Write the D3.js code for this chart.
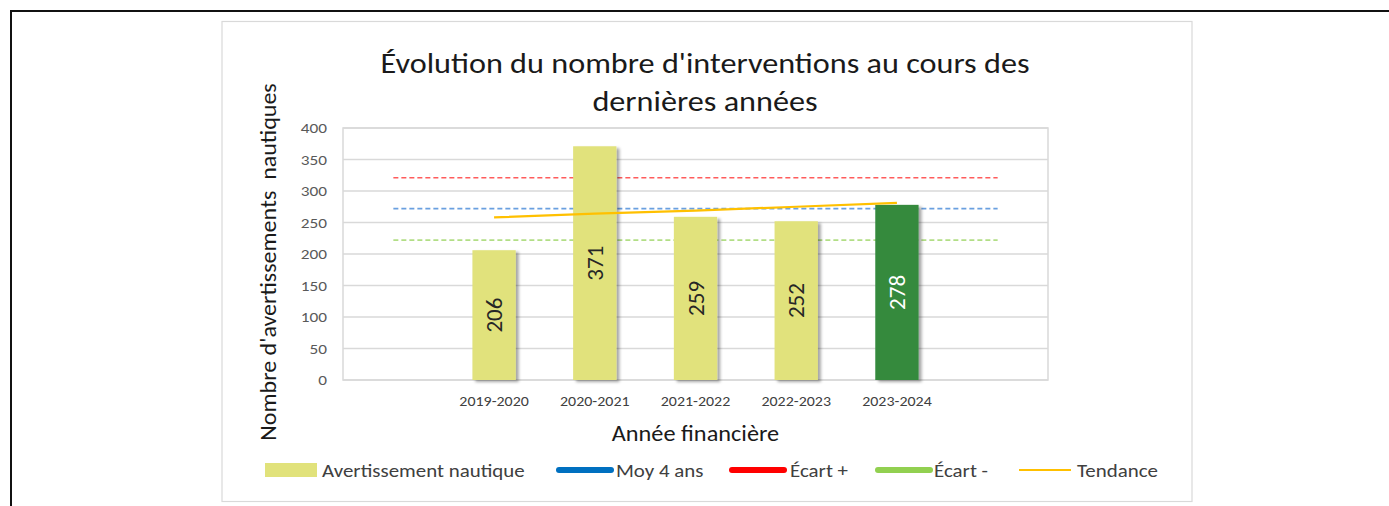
<!DOCTYPE html>
<html>
<head>
<meta charset="utf-8">
<script src="https://cdn.jsdelivr.net/npm/d3@7"></script>
<style>
  body { margin: 0; background: #fff; }
  svg { display: block; font-family: Carlito, Calibri, "Open Sans", sans-serif; }
</style>
</head>
<body>
<div id="chart"></div>
<script>
// Slots 0 and 6 are empty categories (Excel keeps them on the axis)
const categories = ["", "2019-2020", "2020-2021", "2021-2022", "2022-2023", "2023-2024", ""];
const avertissements = [null, 206, 371, 259, 252, 278, null];
const moy4ans = [272, 272, 272, 272, 272, 272, 272];
const ecartPlus = [321, 321, 321, 321, 321, 321, 321];
const ecartMoins = [222, 222, 222, 222, 222, 222, 222];
const tendance = [null, 258, 264, 269, 275, 281, null];
const yTicks = [0, 50, 100, 150, 200, 250, 300, 350, 400];
const legendLabels = ["Avertissement nautique", "Moy 4 ans", "Écart +", "Écart -", "Tendance"];

const width = 1389, height = 506;
const plot = { left: 343, top: 128, right: 1048, bottom: 380 };
const font = "Carlito, Calibri, 'Open Sans', sans-serif";
const widen = 1.13;   // the reference glyphs are wider than Carlito's

const svg = d3.select("#chart").append("svg")
  .attr("width", width)
  .attr("height", height);

// stretch text along its own direction
const stretch = (sel, k) => sel.each(function() {
  const len = this.getComputedTextLength();
  d3.select(this).attr("textLength", len * k).attr("lengthAdjust", "spacingAndGlyphs");
});

// drop shadow used by the bars
svg.append("defs").append("filter")
    .attr("id", "shadow")
    .attr("x", "-20%").attr("y", "-5%")
    .attr("width", "160%").attr("height", "115%")
  .append("feDropShadow")
    .attr("dx", 3).attr("dy", 2)
    .attr("stdDeviation", 1.6)
    .attr("flood-color", "#000")
    .attr("flood-opacity", 0.35);

// page frame + chart frame
svg.append("rect")
  .attr("x", 11).attr("y", 11)
  .attr("width", 1450).attr("height", 600)
  .attr("fill", "none").attr("stroke", "#111").attr("stroke-width", 2);

svg.append("rect")
  .attr("x", 222).attr("y", 21.5)
  .attr("width", 970).attr("height", 480)
  .attr("fill", "#fff").attr("stroke", "#d9d9d9").attr("stroke-width", 1.2);

const x = d3.scaleBand()
  .domain(d3.range(categories.length))
  .range([plot.left, plot.right])
  .paddingInner(0.57)
  .paddingOuter(0.285);

const y = d3.scaleLinear()
  .domain([0, 400])
  .range([plot.bottom, plot.top]);

const cx = i => x(i) + x.bandwidth() / 2;

// gridlines
svg.append("g")
  .selectAll("line")
  .data(yTicks)
  .join("line")
  .attr("x1", plot.left).attr("x2", plot.right)
  .attr("y1", d => y(d)).attr("y2", d => y(d))
  .attr("stroke", "#d9d9d9")
  .attr("stroke-width", 1.5);

svg.append("rect")
  .attr("x", plot.left).attr("y", plot.top)
  .attr("width", plot.right - plot.left).attr("height", plot.bottom - plot.top)
  .attr("fill", "none").attr("stroke", "#d9d9d9").attr("stroke-width", 1.5);

// y axis (labels only)
const yAxis = svg.append("g")
  .attr("transform", `translate(${plot.left},0)`)
  .call(d3.axisLeft(y).tickValues(yTicks).tickSize(0).tickPadding(16));
yAxis.select(".domain").remove();
yAxis.selectAll("text")
  .attr("fill", "#595959")
  .style("font-size", "15px")
  .style("font-family", font)
  .call(stretch, 1.15);

// x axis (labels only)
const xAxis = svg.append("g")
  .attr("transform", `translate(0,${plot.bottom})`)
  .call(d3.axisBottom(x).tickFormat(i => categories[i]).tickSize(0).tickPadding(16));
xAxis.select(".domain").remove();
xAxis.selectAll("text")
  .attr("fill", "#404040")
  .style("font-size", "14.5px")
  .style("font-family", font)
  .call(stretch, 1.1);

// reference lines (dashed)
const refLines = [
  { values: ecartPlus, color: "#ff5c5c" },
  { values: moy4ans, color: "#6aa0e0" },
  { values: ecartMoins, color: "#b2de86" }
];
const lineGen = d3.line()
  .defined(d => d.v != null)
  .x(d => cx(d.i))
  .y(d => y(d.v));

svg.append("g")
  .selectAll("path")
  .data(refLines)
  .join("path")
  .attr("d", d => lineGen(d.values.map((v, i) => ({ v, i }))))
  .attr("fill", "none")
  .attr("stroke", d => d.color)
  .attr("stroke-width", 1.6)
  .attr("stroke-dasharray", "5 3");

// bars
const barData = avertissements.map((v, i) => ({ v, i })).filter(d => d.v != null);
const last = barData[barData.length - 1].i;

svg.append("g")
  .selectAll("rect")
  .data(barData)
  .join("rect")
  .attr("x", d => x(d.i))
  .attr("y", d => y(d.v))
  .attr("width", x.bandwidth())
  .attr("height", d => y(0) - y(d.v))
  .attr("fill", d => d.i === last ? "#358a3e" : "#e1e27b")
  .attr("filter", "url(#shadow)");

// data labels, rotated and centred in bar
svg.append("g")
  .selectAll("text")
  .data(barData)
  .join("text")
  .attr("transform", d => `translate(${cx(d.i) + 8},${(y(d.v) + y(0)) / 2}) rotate(-90)`)
  .attr("text-anchor", "middle")
  .attr("fill", d => d.i === last ? "#fff" : "#262626")
  .style("font-size", "22px")
  .text(d => d.v)
  .attr("textLength", 35)
  .attr("lengthAdjust", "spacingAndGlyphs");

// trend line
svg.append("path")
  .attr("d", lineGen(tendance.map((v, i) => ({ v, i }))))
  .attr("fill", "none")
  .attr("stroke", "#ffc000")
  .attr("stroke-width", 2.2);

// titles
const title = svg.append("g")
  .attr("fill", "#1a1a1a")
  .style("font-size", "28.5px");
title.append("text").attr("x", 705).attr("y", 73)
  .attr("text-anchor", "middle")
  .text("Évolution du nombre d'interventions au cours des");
title.append("text").attr("x", 705).attr("y", 111)
  .attr("text-anchor", "middle")
  .text("dernières années");
title.selectAll("text").call(stretch, widen);

svg.append("text")
  .attr("transform", `translate(276,${262}) rotate(-90)`)
  .attr("text-anchor", "middle")
  .attr("fill", "#1a1a1a")
  .style("font-size", "22px")
  .style("white-space", "pre")
  .text("Nombre d'avertissements  nautiques")
  .call(stretch, 1.09);

svg.append("text")
  .attr("x", (plot.left + plot.right) / 2)
  .attr("y", 441)
  .attr("text-anchor", "middle")
  .attr("fill", "#1a1a1a")
  .style("font-size", "21.5px")
  .text("Année financière")
  .call(stretch, widen);

// legend
const legendPos = [265, 556, 729, 875, 1019];
const legendText = [322, 616, 790, 934, 1077];
const legendY = 470;
const legend = svg.append("g");

legend.append("rect")
  .attr("x", legendPos[0]).attr("y", legendY - 7)
  .attr("width", 52).attr("height", 14)
  .attr("fill", "#e1e27b");

const legendLines = [
  { x: legendPos[1], w: 58, color: "#0070c0", sw: 6 },
  { x: legendPos[2], w: 58, color: "#ff0000", sw: 6 },
  { x: legendPos[3], w: 58, color: "#92d050", sw: 6 },
  { x: legendPos[4], w: 52, color: "#ffc000", sw: 2 }
];
legend.selectAll("line")
  .data(legendLines)
  .join("line")
  .attr("x1", d => d.x + (d.sw > 2 ? 3 : 0))
  .attr("x2", d => d.x + d.w - (d.sw > 2 ? 3 : 0))
  .attr("y1", legendY).attr("y2", legendY)
  .attr("stroke", d => d.color)
  .attr("stroke-width", d => d.sw)
  .attr("stroke-linecap", d => d.sw > 2 ? "round" : "butt");

legend.selectAll("text")
  .data(legendLabels)
  .join("text")
  .attr("x", (d, i) => legendText[i])
  .attr("y", legendY + 7)
  .attr("fill", "#404040")
  .style("font-size", "18.5px")
  .text(d => d)
  .call(stretch, widen);
</script>
</body>
</html>
